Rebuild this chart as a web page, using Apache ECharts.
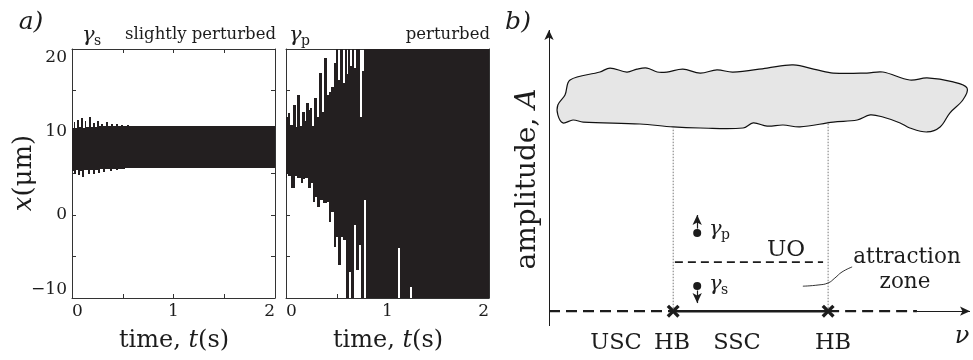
<!DOCTYPE html>
<html><head><meta charset="utf-8">
<script src="https://cdn.jsdelivr.net/npm/echarts@6/dist/echarts.min.js"></script>
<style>html,body{margin:0;padding:0;background:#fff}#c{width:973px;height:360px}</style>
</head><body><div id="c"></div>
<script>
// ================= DATA =================
// panel a tick labels
const timeTicks = [0, 1, 2];
const xTicks = [-10, 0, 10, 20];
// panel a, left (γs, slightly perturbed): response envelope as steps (time in s, x in µm)
const sUpperT = [0, 0.015, 0.03, 0.05, 0.068, 0.09, 0.108, 0.125, 0.142, 0.165, 0.185, 0.21, 0.228, 0.25, 0.27, 0.29, 0.31, 0.335, 0.352, 0.38, 0.40, 0.43, 0.45, 0.48, 0.50, 0.54, 0.56];
const sUpperX = [10.5, 11.2, 10.5, 11.5, 10.6, 11.7, 10.5, 11.3, 10.6, 11.8, 10.6, 11.1, 10.6, 11.3, 10.7, 11.0, 10.7, 11.2, 10.7, 11.0, 10.75, 10.95, 10.75, 10.9, 10.75, 10.85, 10.75];
const sLowerT = [0, 0.02, 0.04, 0.06, 0.08, 0.10, 0.12, 0.16, 0.18, 0.21, 0.23, 0.26, 0.28, 0.31, 0.33, 0.37, 0.39, 0.43, 0.45, 0.50, 0.52];
const sLowerX = [5.3, 4.9, 5.4, 4.8, 5.3, 4.6, 5.4, 4.9, 5.4, 5.0, 5.4, 5.1, 5.5, 5.2, 5.5, 5.3, 5.6, 5.4, 5.6, 5.5, 5.65];
// panel a, right (γp, perturbed)
const pUpperT = [0, 0.02, 0.04, 0.07, 0.10, 0.11, 0.14, 0.16, 0.19, 0.20, 0.23, 0.24, 0.26, 0.28, 0.31, 0.33, 0.35, 0.37, 0.40, 0.42, 0.44, 0.47, 0.49, 0.51, 0.53, 0.56, 0.58, 0.60, 0.612, 0.635, 0.647, 0.67, 0.69, 0.73, 0.75, 0.77];
const pUpperX = [11.8, 12.3, 10.8, 13.3, 10.6, 14.5, 10.7, 12.4, 11.3, 13.5, 12.7, 12.9, 10.7, 14.1, 11.8, 17.1, 12.4, 18.9, 14.5, 14.8, 15.4, 18.3, 20, 16.3, 20, 15.9, 20, 17.0, 20, 18.0, 20, 17.7, 20, 11.8, 17.4, 20];
const pLowerT = [0, 0.013, 0.02, 0.053, 0.085, 0.11, 0.145, 0.17, 0.19, 0.217, 0.245, 0.27, 0.286, 0.31, 0.335, 0.368, 0.40, 0.424, 0.446, 0.473, 0.496, 0.516, 0.545, 0.565, 0.59, 0.62, 0.637, 0.67, 0.686, 0.72, 0.735, 0.77, 0.785, 1.0, 1.007, 1.105, 1.12, 1.225, 1.24];
const pLowerX = [4.5, 4.9, 4.7, 3.3, 4.7, 4.5, 3.9, 4.3, 4.5, 3.3, 3.9, 1.6, 2.2, 1.0, 1.8, 1.4, 1.6, -0.8, 0.4, -3.8, -2.6, -6.0, -2.6, -3.0, -10, -6.9, -10, -1.2, -6.6, -3.6, -10, 1.8, -10, -6.5, -10, -4.0, -10, -8.7, -10];
// panel b schematic (ν, A in arbitrary units)
const chatterNu = [0.50,1.21,1.45,1.85,2.09,2.33,2.57,2.80,3.18,3.59,3.99,4.37,5.18,5.80,6.37,6.75,7.55,7.93,8.57,8.98,9.60,9.93,9.83,9.52,9.29,8.98,8.57,8.34,7.93,7.63,7.32,6.75,5.96,5.56,5.18,4.85,4.61,3.59,2.95,2.16,0.81,0.57,0.33,0.21,0.21,0.38];
const chatterA = [15.62,16.16,16.43,16.16,16.36,16.43,16.16,16.16,16.36,16.09,16.30,16.16,16.43,16.64,16.30,16.09,16.09,16.16,15.62,15.76,15.49,15.08,14.27,13.39,12.45,12.11,12.38,12.72,13.12,13.26,12.92,12.78,12.45,12.58,12.51,12.72,12.38,12.38,12.45,12.65,12.78,12.92,12.72,13.26,13.93,14.61];
const hbNu = [2.95, 6.63];            // Hopf bifurcation points
const hbTopA = [12.4, 12.8];          // where dotted guides meet the chatter zone
const dashEndNu = 8.74;               // end of dashed (unstable) branch
const nuMax = 10, aMin = -1, aMax = 19;
const uoNu = [2.99, 6.51], uoA = 3.32; // unstable orbit
const gammaNu = 3.52;
const gammaP = [5.28, 6.5];            // point, arrow tip
const gammaS = [1.7, 0.55];
const zoneCurveNu = [6.03, 6.39, 6.63, 6.79, 6.96, 7.20];
const zoneCurveA = [1.69, 1.77, 1.91, 2.24, 2.65, 2.99];

// ================= CHART =================
const FONT = 'DejaVu Serif';
const INK = '#1c1c1c';
const chart = echarts.init(document.getElementById('c'), null, {renderer: 'canvas'});

function envelope(xi, yi, ts, vs, base, tEnd) {
  const data = ts.map((t, i) => [t, i + 1 < ts.length ? ts[i + 1] : tEnd, vs[i]]);
  return {
    type: 'custom', xAxisIndex: xi, yAxisIndex: yi, silent: true, clip: true,
    encode: {x: [0, 1], y: 2},
    data,
    renderItem: (params, api) => {
      const a = api.coord([api.value(0), base]);
      const b = api.coord([api.value(1), api.value(2)]);
      const x0 = Math.round(a[0]), x1 = Math.max(Math.round(b[0]), x0 + 1);
      const y0 = Math.round(Math.min(a[1], b[1])), y1 = Math.round(Math.max(a[1], b[1]));
      return {type: 'rect',
        shape: {x: x0, y: y0, width: x1 - x0, height: y1 - y0},
        style: {fill: '#231f20'}};
    }
  };
}

function timeAxis(grid, pos, labels) {
  return {
    gridIndex: grid, type: 'value', min: 0, max: 2, interval: 0.5, position: pos,
    axisLine: {show: true, onZero: false, lineStyle: {color: '#333', width: 1}},
    axisTick: {show: true, inside: true, length: 4, lineStyle: {color: '#333'}},
    splitLine: {show: false},
    axisLabel: {show: labels, formatter: v => timeTicks.includes(v) ? String(v) : '',
      fontFamily: FONT, fontSize: 17, color: INK, margin: 5,
      alignMinLabel: 'left', alignMaxLabel: 'right'}
  };
}
function ampAxis(grid, pos, labels) {
  return {
    gridIndex: grid, type: 'value', min: -10, max: 20, interval: 5, position: pos,
    axisLine: {show: true, onZero: false, lineStyle: {color: '#333', width: 1}},
    axisTick: {show: true, inside: true, length: 4, lineStyle: {color: '#333'}},
    splitLine: {show: false},
    axisLabel: {show: labels, formatter: v => xTicks.includes(v) ? (v < 0 ? '\u2212' + Math.abs(v) : String(v)) : '',
      fontFamily: FONT, fontSize: 17, color: INK, margin: 5,
      verticalAlignMinLabel: 'bottom', verticalAlignMaxLabel: 'top'}
  };
}

function seg(points, style, extra) {
  return Object.assign({
    type: 'line', xAxisIndex: 4, yAxisIndex: 4, silent: true, symbol: 'none',
    animation: false, data: points, lineStyle: Object.assign({color: INK}, style)
  }, extra || {});
}

const bSeries = [];
// chatter region
bSeries.push({
  type: 'custom', xAxisIndex: 4, yAxisIndex: 4, silent: true, data: [[0, 0]],
  renderItem: (params, api) => ({
    type: 'polygon',
    shape: {points: chatterNu.map((n, i) => api.coord([n, chatterA[i]])), smooth: 0.35},
    style: {fill: '#e6e6e6', stroke: '#111', lineWidth: 1.2}
  })
});
// dotted guides
hbNu.forEach((n, i) => bSeries.push(seg([[n, 0], [n, hbTopA[i]]], {width: 0.8, type: [1.5, 1.5], color: '#555'})));
// ν axis pieces
bSeries.push(seg([[0, 0], [hbNu[0], 0]], {width: 2.2, type: [11, 6]}));
bSeries.push(seg([[hbNu[0], 0], [hbNu[1], 0]], {width: 2.5}));
bSeries.push(seg([[hbNu[1], 0], [dashEndNu, 0]], {width: 2.2, type: [11, 6]}));
// unstable orbit
bSeries.push(seg([[uoNu[0], uoA], [uoNu[1], uoA]], {width: 1.8, type: [8, 5]}));
// attraction zone pointer
bSeries.push(seg(zoneCurveNu.map((n, i) => [n, zoneCurveA[i]]), {width: 0.9}, {smooth: 0.5}));
// arrows (axes and perturbation directions)
bSeries.push({
  type: 'line', xAxisIndex: 4, yAxisIndex: 4, silent: true, data: [], animation: false,
  markLine: {
    silent: true, symbol: ['none', 'arrow'], symbolSize: [7, 10], label: {show: false},
    lineStyle: {color: INK, width: 1, type: 'solid'},
    data: [
      [{coord: [0, aMin]}, {coord: [0, aMax]}],
      [{coord: [dashEndNu, 0]}, {coord: [nuMax, 0]}],
      [{coord: [gammaNu, gammaP[0] + 0.3], lineStyle: {width: 1.2}, symbolSize: [6, 8]}, {coord: [gammaNu, gammaP[1]]}],
      [{coord: [gammaNu, gammaS[0] - 0.3], lineStyle: {width: 1.2}, symbolSize: [6, 8]}, {coord: [gammaNu, gammaS[1]]}]
    ]
  }
});
// dots
bSeries.push({type: 'scatter', xAxisIndex: 4, yAxisIndex: 4, silent: true, symbolSize: 8,
  itemStyle: {color: INK, opacity: 1}, data: [[gammaNu, gammaP[0]], [gammaNu, gammaS[0]]]});
// HB crosses
bSeries.push({type: 'scatter', xAxisIndex: 4, yAxisIndex: 4, silent: true, symbolSize: 13,
  symbol: 'path://M0,1.8L1.8,0L5,3.2L8.2,0L10,1.8L6.8,5L10,8.2L8.2,10L5,6.8L1.8,10L0,8.2L3.2,5Z',
  itemStyle: {color: INK, opacity: 1}, data: hbNu.map(n => [n, 0])});

function txt(x, y, text, size, opts) {
  return Object.assign({type: 'text', x, y, silent: true,
    style: Object.assign({text, fontFamily: FONT, fontSize: size, fill: INK, align: 'center', verticalAlign: 'middle'}, (opts && opts.style) || {})},
    opts && opts.el || {});
}
const rich2 = (size) => ({
  i: {fontFamily: FONT, fontStyle: 'italic', fontSize: size, fill: INK},
  n: {fontFamily: FONT, fontSize: size, fill: INK}
});

const graphics = [
  txt(31, 22, 'a)', 25, {style: {fontStyle: 'italic'}}),
  txt(518, 22, 'b)', 25, {style: {fontStyle: 'italic'}}),
  txt(82, 36, 'γ', 21, {style: {align: 'left', fontStyle: 'italic'}}),
  txt(94, 41, 's', 14, {style: {align: 'left'}}),
  txt(276, 35, 'slightly perturbed', 16.5, {style: {align: 'right'}}),
  txt(289, 36, 'γ', 21, {style: {align: 'left', fontStyle: 'italic'}}),
  txt(301, 41, 'p', 14, {style: {align: 'left'}}),
  txt(490, 35, 'perturbed', 16.5, {style: {align: 'right'}}),
  {type: 'text', x: 24, y: 173, rotation: Math.PI / 2, silent: true,
    style: {text: '{i|x}{n|(μm)}', align: 'center', verticalAlign: 'middle', fill: INK, rich: rich2(26)}},
  {type: 'text', x: 174, y: 341, silent: true,
    style: {text: '{n|time, }{i|t}{n|(s)}', align: 'center', verticalAlign: 'middle', fill: INK, rich: rich2(24)}},
  {type: 'text', x: 388, y: 341, silent: true,
    style: {text: '{n|time, }{i|t}{n|(s)}', align: 'center', verticalAlign: 'middle', fill: INK, rich: rich2(24)}},
  {type: 'text', x: 528, y: 179, rotation: Math.PI / 2, silent: true,
    style: {text: '{n|amplitude, }{i|A}', align: 'center', verticalAlign: 'middle', fill: INK, rich: rich2(28)}},
  txt(751, 100, 'chatter', 21.5),
  txt(616, 343, 'USC', 22.5),
  txt(672, 343, 'HB', 22.5),
  txt(737, 343, 'SSC', 22.5),
  txt(833, 343, 'HB', 22.5),
  txt(962, 337, 'ν', 24, {style: {fontStyle: 'italic'}}),
  txt(786, 250, 'UO', 23),
  txt(907, 257, 'attraction', 21.5),
  txt(905, 282, 'zone', 21.5),
  txt(709, 230, 'γ', 21, {style: {align: 'left', fontStyle: 'italic'}}),
  txt(721, 235, 'p', 14, {style: {align: 'left'}}),
  txt(709, 285, 'γ', 21, {style: {align: 'left', fontStyle: 'italic'}}),
  txt(721, 290, 's', 14, {style: {align: 'left'}})
];

chart.setOption({
  animation: false,
  backgroundColor: '#fff',
  grid: [
    {left: 72, top: 49, width: 203, height: 249},
    {left: 286, top: 49, width: 203, height: 249},
    {left: 549, top: 30, width: 421, height: 325.6}
  ],
  xAxis: [
    timeAxis(0, 'bottom', true), timeAxis(0, 'top', false),
    timeAxis(1, 'bottom', true), timeAxis(1, 'top', false),
    {gridIndex: 2, type: 'value', min: 0, max: nuMax, show: false}
  ],
  yAxis: [
    ampAxis(0, 'left', true), ampAxis(0, 'right', false),
    ampAxis(1, 'left', false), ampAxis(1, 'right', false),
    {gridIndex: 2, type: 'value', min: -3, max: aMax, show: false}
  ],
  series: [
    envelope(0, 0, sUpperT, sUpperX, 7, 2),
    envelope(0, 0, sLowerT, sLowerX, 9, 2),
    envelope(2, 2, pUpperT, pUpperX, 6.5, 2),
    envelope(2, 2, pLowerT, pLowerX, 8.5, 2)
  ].concat(bSeries),
  graphic: graphics
});
</script></body></html>
